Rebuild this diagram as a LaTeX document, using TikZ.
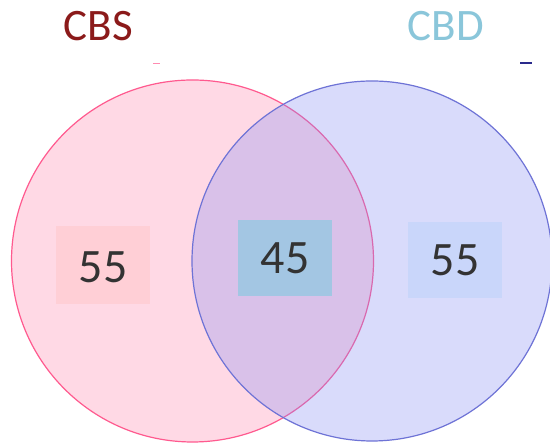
\documentclass[tikz,border=0pt]{standalone}
\usepackage{fontspec}
\setmainfont{Carlito}
\definecolor{pinkfill}{HTML}{FFD9E5}
\definecolor{pinkline}{HTML}{FF5A8F}
\definecolor{bluefill}{HTML}{878CF5}
\definecolor{blueline}{HTML}{6E73D6}
\definecolor{cbscol}{HTML}{8B1A1A}
\definecolor{cbdcol}{HTML}{8AC6DA}
\definecolor{boxa}{HTML}{FFCFD6}
\definecolor{boxb}{HTML}{A3C6E3}
\definecolor{boxc}{HTML}{C9D6FA}
\definecolor{numcol}{HTML}{333333}
\definecolor{darkblue}{HTML}{2A2A8C}
\tikzset{
  title/.style={font=\fontsize{45}{50}\selectfont, anchor=base, inner sep=0pt},
  num/.style={font=\fontsize{48}{54}\selectfont, text=numcol, anchor=base, inner sep=0pt},
  numbox/.style={rectangle, inner sep=0pt, minimum width=94pt, minimum height=77pt, draw=none},
}
\begin{document}
\begin{tikzpicture}[x=1pt,y=1pt]
\useasboundingbox (0,0) rectangle (550,443);
\clip (0,0) rectangle (550,443);
\fill[white] (0,0) rectangle (550,443);
% circles
\node[circle, minimum size=362pt, inner sep=0pt, fill=pinkfill, draw=pinkline, line width=1.2pt] (cbs) at (192.5,182) {};
\node[circle, minimum size=360pt, inner sep=0pt, fill=bluefill, fill opacity=0.31, draw=blueline, draw opacity=1, line width=1.2pt] (cbd) at (372,182) {};
% small marks
\draw[pinkline!70, line width=1pt] (153,379) -- (160,379);
\draw[darkblue, line width=2pt] (520,380) -- (532,380);
% titles
\node[title, text=cbscol] (tcbs) at (98.5,402) {CBS};
\node[title, text=cbdcol] (tcbd) at (446,402) {CBD};
% boxes
\node[numbox, fill=boxa, minimum height=78pt] (b1) at (103,178) {};
\node[numbox, fill=boxb, minimum height=76pt] (b2) at (285,185) {};
\node[numbox, fill=boxc, minimum height=76pt] (b3) at (455,183) {};
\node[num] (n1) at (103,160) {55};
\node[num] (n2) at (285,169) {45};
\node[num] (n3) at (455,167) {55};
\end{tikzpicture}
\end{document}
